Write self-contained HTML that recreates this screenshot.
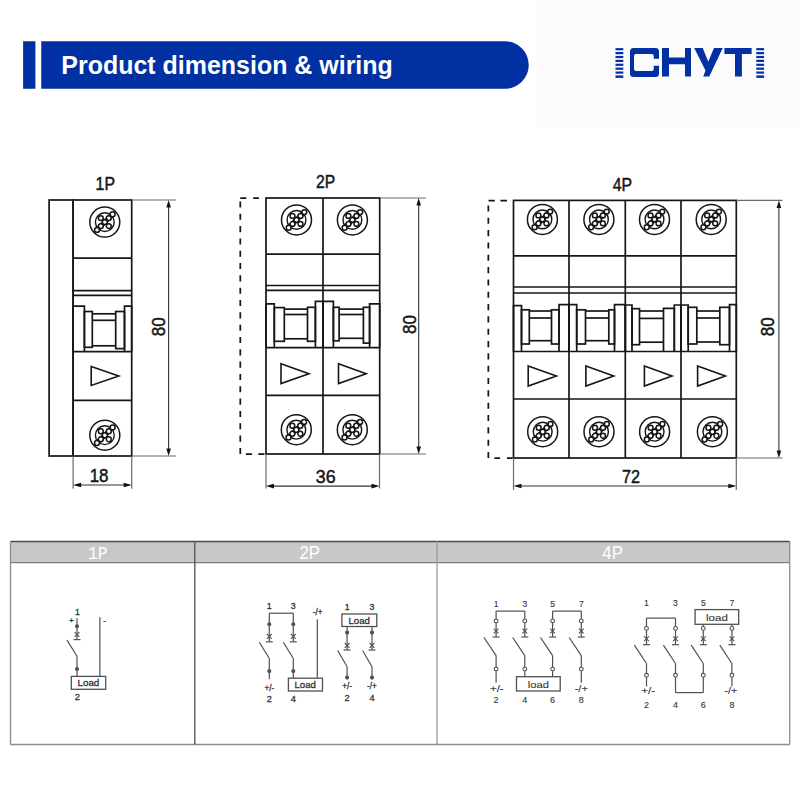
<!DOCTYPE html><html><head><meta charset="utf-8"><style>html,body{margin:0;padding:0;background:#fff;}svg{display:block;}</style></head><body>
<svg width="800" height="796" viewBox="0 0 800 796">
<rect width="800" height="796" fill="#fff"/>
<rect x="537" y="0" width="263" height="128" fill="#fbfbfb"/>
<rect x="23.1" y="41.25" width="12.3" height="47.5" fill="#0030a2"/>
<path d="M41.25 41.25 H505 A23.75 23.75 0 0 1 505 88.75 H41.25 Z" fill="#0030a2"/>
<text x="61.3" y="73.5" font-family="Liberation Sans" font-size="25.2" font-weight="bold" fill="#fff" text-anchor="start" textLength="331.5" lengthAdjust="spacingAndGlyphs" >Product dimension &amp; wiring</text>
<rect x="615.5" y="48.10" width="7.8" height="2.2" fill="#0030a2"/>
<rect x="615.5" y="52.00" width="7.8" height="2.2" fill="#0030a2"/>
<rect x="615.5" y="55.90" width="7.8" height="2.2" fill="#0030a2"/>
<rect x="615.5" y="59.80" width="7.8" height="2.2" fill="#0030a2"/>
<rect x="615.5" y="63.70" width="7.8" height="2.2" fill="#0030a2"/>
<rect x="615.5" y="67.60" width="7.8" height="2.2" fill="#0030a2"/>
<rect x="615.5" y="71.50" width="7.8" height="2.2" fill="#0030a2"/>
<rect x="615.5" y="75.40" width="7.8" height="2.5" fill="#0030a2"/>
<rect x="756.3" y="48.10" width="7.8" height="2.2" fill="#0030a2"/>
<rect x="756.3" y="52.00" width="7.8" height="2.2" fill="#0030a2"/>
<rect x="756.3" y="55.90" width="7.8" height="2.2" fill="#0030a2"/>
<rect x="756.3" y="59.80" width="7.8" height="2.2" fill="#0030a2"/>
<rect x="756.3" y="63.70" width="7.8" height="2.2" fill="#0030a2"/>
<rect x="756.3" y="67.60" width="7.8" height="2.2" fill="#0030a2"/>
<rect x="756.3" y="71.50" width="7.8" height="2.2" fill="#0030a2"/>
<rect x="756.3" y="75.40" width="7.8" height="2.5" fill="#0030a2"/>
<path fill-rule="evenodd" d="M633.5 48 H655.5 Q659 48 659 51.5 V58.75 H653.75 V56 Q653.75 54 651.75 54 H636 Q634 54 634 56 V69 Q634 71 636 71 H651.75 Q653.75 71 653.75 69 V65.75 H659 V73.5 Q659 77 655.5 77 H633.5 Q630 77 630 73.5 V51.5 Q630 48 633.5 48 Z" fill="#0030a2"/>
<path d="M662 48 H669 V57.5 H685 V48 H691 V76.5 H685 V64.25 H669 V76.5 H662 Z" fill="#0030a2"/>
<path d="M694.25 48 H702.75 L708.25 61.75 L714 48 H722.75 L709.25 76.5 H703.25 L705.5 70.5 Z" fill="#0030a2"/>
<path d="M724.4 48 H751.6 V54 H741.9 V76.5 H735 V54 H724.4 Z" fill="#0030a2"/>
<text x="95.6" y="189.6" font-family="Liberation Sans" font-size="19" font-weight="normal" fill="#161616" text-anchor="start" textLength="19.4" lengthAdjust="spacingAndGlyphs"  stroke="#161616" stroke-width="0.5">1P</text>
<rect x="49.1" y="200" width="24" height="256" fill="none" stroke="#161616" stroke-width="1.7"/>
<rect x="73.1" y="200" width="58.6" height="256" fill="none" stroke="#161616" stroke-width="1.7"/>
<line x1="73.1" y1="258.1" x2="131.7" y2="258.1" stroke="#161616" stroke-width="1.7" />
<line x1="73.1" y1="290.7" x2="131.7" y2="290.7" stroke="#161616" stroke-width="1.7" />
<line x1="73.1" y1="295.3" x2="131.7" y2="295.3" stroke="#161616" stroke-width="1.7" />
<line x1="73.1" y1="351.7" x2="131.7" y2="351.7" stroke="#161616" stroke-width="1.7" />
<line x1="73.1" y1="400.3" x2="131.7" y2="400.3" stroke="#161616" stroke-width="1.7" />
<polyline points="73.1,351.7 73.1,306.2 84.4,306.2 84.4,351.7" fill="none" stroke="#161616" stroke-width="1.7"/>
<rect x="84.4" y="311.5" width="7.90" height="35.80" fill="none" stroke="#161616" stroke-width="1.7"/>
<rect x="115.7" y="311.5" width="8.80" height="37.10" fill="none" stroke="#161616" stroke-width="1.7"/>
<polyline points="124.5,351.7 124.5,306.2 131.7,306.2 131.7,351.7" fill="none" stroke="#161616" stroke-width="1.7"/>
<line x1="92.3" y1="313.8" x2="115.7" y2="313.8" stroke="#161616" stroke-width="1.7" />
<line x1="92.3" y1="320.3" x2="115.7" y2="320.3" stroke="#161616" stroke-width="1.7" />
<line x1="92.3" y1="345.8" x2="115.7" y2="345.8" stroke="#161616" stroke-width="1.7" />
<polygon points="91.2,366.4 118.8,375.95 91.2,385.5" fill="none" stroke="#161616" stroke-width="1.6" stroke-linejoin="miter"/>
<g transform="translate(104.8,222.1)"><circle cx="0" cy="0" r="15" fill="none" stroke="#161616" stroke-width="1.5"/><circle cx="0" cy="0" r="9.4" fill="none" stroke="#161616" stroke-width="1.4"/><line x1="-7.8" y1="7.8" x2="7.8" y2="-7.8" stroke="#161616" stroke-width="5"/><line x1="-4" y1="-4" x2="4" y2="4" stroke="#161616" stroke-width="3"/><circle cx="0" cy="0" r="2.45" fill="#fff" stroke="#161616" stroke-width="1.5"/><circle cx="-4" cy="-4" r="2.45" fill="#fff" stroke="#161616" stroke-width="1.5"/><circle cx="4" cy="-4" r="2.45" fill="#fff" stroke="#161616" stroke-width="1.5"/><circle cx="-4" cy="4" r="2.45" fill="#fff" stroke="#161616" stroke-width="1.5"/><circle cx="4" cy="4" r="2.45" fill="#fff" stroke="#161616" stroke-width="1.5"/><circle cx="7.8" cy="-7.8" r="2.45" fill="#fff" stroke="#161616" stroke-width="1.5"/><circle cx="-7.8" cy="7.8" r="2.45" fill="#fff" stroke="#161616" stroke-width="1.5"/></g>
<g transform="translate(104.8,435.2)"><circle cx="0" cy="0" r="15" fill="none" stroke="#161616" stroke-width="1.5"/><circle cx="0" cy="0" r="9.4" fill="none" stroke="#161616" stroke-width="1.4"/><line x1="-7.8" y1="7.8" x2="7.8" y2="-7.8" stroke="#161616" stroke-width="5"/><line x1="-4" y1="-4" x2="4" y2="4" stroke="#161616" stroke-width="3"/><circle cx="0" cy="0" r="2.45" fill="#fff" stroke="#161616" stroke-width="1.5"/><circle cx="-4" cy="-4" r="2.45" fill="#fff" stroke="#161616" stroke-width="1.5"/><circle cx="4" cy="-4" r="2.45" fill="#fff" stroke="#161616" stroke-width="1.5"/><circle cx="-4" cy="4" r="2.45" fill="#fff" stroke="#161616" stroke-width="1.5"/><circle cx="4" cy="4" r="2.45" fill="#fff" stroke="#161616" stroke-width="1.5"/><circle cx="7.8" cy="-7.8" r="2.45" fill="#fff" stroke="#161616" stroke-width="1.5"/><circle cx="-7.8" cy="7.8" r="2.45" fill="#fff" stroke="#161616" stroke-width="1.5"/></g>
<line x1="131.7" y1="200" x2="176" y2="200" stroke="#6a6a6a" stroke-width="1.2" />
<line x1="131.7" y1="456" x2="176" y2="456" stroke="#6a6a6a" stroke-width="1.2" />
<line x1="168.6" y1="203" x2="168.6" y2="453" stroke="#333" stroke-width="1.1" />
<polygon points="168.6,200 166.29999999999998,207.5 170.9,207.5" fill="#111"/>
<polygon points="168.6,456 166.29999999999998,448.5 170.9,448.5" fill="#111"/>
<text x="0" y="0" transform="translate(158.8,326.7) rotate(-90)" font-family="Liberation Sans" font-size="19" fill="#161616" stroke="#161616" stroke-width="0.5" text-anchor="middle" dominant-baseline="central" textLength="19" lengthAdjust="spacingAndGlyphs">80</text>
<line x1="73.1" y1="456" x2="73.1" y2="488.7" stroke="#6a6a6a" stroke-width="1.2" />
<line x1="131.7" y1="456" x2="131.7" y2="488.7" stroke="#6a6a6a" stroke-width="1.2" />
<line x1="76.1" y1="485" x2="128.7" y2="485" stroke="#333" stroke-width="1.1" />
<polygon points="73.1,485 81.1,482.7 81.1,487.3" fill="#111"/>
<polygon points="131.7,485 123.69999999999999,482.7 123.69999999999999,487.3" fill="#111"/>
<text x="89.7" y="482.2" font-family="Liberation Sans" font-size="18.5" font-weight="normal" fill="#161616" text-anchor="start" textLength="18.8" lengthAdjust="spacingAndGlyphs"  stroke="#161616" stroke-width="0.5">18</text>
<text x="316" y="188.4" font-family="Liberation Sans" font-size="19" font-weight="normal" fill="#161616" text-anchor="start" textLength="19.2" lengthAdjust="spacingAndGlyphs"  stroke="#161616" stroke-width="0.5">2P</text>
<path d="M240.3 201.40 v6.1 M240.3 213.72 v6.1 M240.3 226.05 v6.1 M240.3 238.38 v6.1 M240.3 250.70 v6.1 M240.3 263.02 v6.1 M240.3 275.35 v6.1 M240.3 287.68 v6.1 M240.3 300.00 v6.1 M240.3 312.32 v6.1 M240.3 324.65 v6.1 M240.3 336.98 v6.1 M240.3 349.30 v6.1 M240.3 361.62 v6.1 M240.3 373.95 v6.1 M240.3 386.27 v6.1 M240.3 398.60 v6.1 M240.3 410.92 v6.1 M240.3 423.25 v6.1 M240.3 435.57 v6.1 M240.3 447.90 v6.1 M240.3 198 H246.3 M253.2 198 H258.9 M245.8 454 H252.1 M258.3 454 H264.5 " fill="none" stroke="#161616" stroke-width="1.75"/>
<rect x="266" y="198" width="113.7" height="256" fill="none" stroke="#161616" stroke-width="1.7"/>
<line x1="323" y1="198" x2="323" y2="454" stroke="#161616" stroke-width="1.7" />
<line x1="266" y1="254.1" x2="379.7" y2="254.1" stroke="#161616" stroke-width="1.7" />
<line x1="266" y1="285.5" x2="379.7" y2="285.5" stroke="#161616" stroke-width="1.7" />
<line x1="266" y1="290.4" x2="379.7" y2="290.4" stroke="#161616" stroke-width="1.7" />
<line x1="266" y1="347.6" x2="379.7" y2="347.6" stroke="#161616" stroke-width="1.7" />
<line x1="266" y1="395.4" x2="379.7" y2="395.4" stroke="#161616" stroke-width="1.7" />
<polyline points="266,347.6 266,303.8 274.3,303.8 274.3,347.6" fill="none" stroke="#161616" stroke-width="1.7"/>
<rect x="274.3" y="307.6" width="10.00" height="33.70" fill="none" stroke="#161616" stroke-width="1.7"/>
<rect x="307.5" y="307.3" width="7.90" height="34.00" fill="none" stroke="#161616" stroke-width="1.7"/>
<polyline points="315.4,347.6 315.4,301.4 323,301.4 323,347.6" fill="none" stroke="#161616" stroke-width="1.7"/>
<line x1="284.3" y1="309.1" x2="307.5" y2="309.1" stroke="#161616" stroke-width="1.7" />
<line x1="284.3" y1="314.5" x2="307.5" y2="314.5" stroke="#161616" stroke-width="1.7" />
<line x1="284.3" y1="338.8" x2="307.5" y2="338.8" stroke="#161616" stroke-width="1.7" />
<polyline points="323,347.6 323,301.4 333.4,301.4 333.4,347.6" fill="none" stroke="#161616" stroke-width="1.7"/>
<rect x="333.4" y="307.3" width="5.70" height="33.50" fill="none" stroke="#161616" stroke-width="1.7"/>
<rect x="363.4" y="307.3" width="6.20" height="35.80" fill="none" stroke="#161616" stroke-width="1.7"/>
<polyline points="369.6,347.6 369.6,303.8 379.7,303.8 379.7,347.6" fill="none" stroke="#161616" stroke-width="1.7"/>
<line x1="339.1" y1="309.1" x2="363.4" y2="309.1" stroke="#161616" stroke-width="1.7" />
<line x1="339.1" y1="314.5" x2="363.4" y2="314.5" stroke="#161616" stroke-width="1.7" />
<line x1="339.1" y1="338.3" x2="363.4" y2="338.3" stroke="#161616" stroke-width="1.7" />
<polygon points="281,363.7 309,373.65 281,383.6" fill="none" stroke="#161616" stroke-width="1.6" stroke-linejoin="miter"/>
<polygon points="338.5,363.7 366.2,373.65 338.5,383.6" fill="none" stroke="#161616" stroke-width="1.6" stroke-linejoin="miter"/>
<g transform="translate(296.5,219.9)"><circle cx="0" cy="0" r="15" fill="none" stroke="#161616" stroke-width="1.5"/><circle cx="0" cy="0" r="9.4" fill="none" stroke="#161616" stroke-width="1.4"/><line x1="-7.8" y1="7.8" x2="7.8" y2="-7.8" stroke="#161616" stroke-width="5"/><line x1="-4" y1="-4" x2="4" y2="4" stroke="#161616" stroke-width="3"/><circle cx="0" cy="0" r="2.45" fill="#fff" stroke="#161616" stroke-width="1.5"/><circle cx="-4" cy="-4" r="2.45" fill="#fff" stroke="#161616" stroke-width="1.5"/><circle cx="4" cy="-4" r="2.45" fill="#fff" stroke="#161616" stroke-width="1.5"/><circle cx="-4" cy="4" r="2.45" fill="#fff" stroke="#161616" stroke-width="1.5"/><circle cx="4" cy="4" r="2.45" fill="#fff" stroke="#161616" stroke-width="1.5"/><circle cx="7.8" cy="-7.8" r="2.45" fill="#fff" stroke="#161616" stroke-width="1.5"/><circle cx="-7.8" cy="7.8" r="2.45" fill="#fff" stroke="#161616" stroke-width="1.5"/></g>
<g transform="translate(352.4,219.9)"><circle cx="0" cy="0" r="15" fill="none" stroke="#161616" stroke-width="1.5"/><circle cx="0" cy="0" r="9.4" fill="none" stroke="#161616" stroke-width="1.4"/><line x1="-7.8" y1="7.8" x2="7.8" y2="-7.8" stroke="#161616" stroke-width="5"/><line x1="-4" y1="-4" x2="4" y2="4" stroke="#161616" stroke-width="3"/><circle cx="0" cy="0" r="2.45" fill="#fff" stroke="#161616" stroke-width="1.5"/><circle cx="-4" cy="-4" r="2.45" fill="#fff" stroke="#161616" stroke-width="1.5"/><circle cx="4" cy="-4" r="2.45" fill="#fff" stroke="#161616" stroke-width="1.5"/><circle cx="-4" cy="4" r="2.45" fill="#fff" stroke="#161616" stroke-width="1.5"/><circle cx="4" cy="4" r="2.45" fill="#fff" stroke="#161616" stroke-width="1.5"/><circle cx="7.8" cy="-7.8" r="2.45" fill="#fff" stroke="#161616" stroke-width="1.5"/><circle cx="-7.8" cy="7.8" r="2.45" fill="#fff" stroke="#161616" stroke-width="1.5"/></g>
<g transform="translate(296.3,429.7)"><circle cx="0" cy="0" r="15" fill="none" stroke="#161616" stroke-width="1.5"/><circle cx="0" cy="0" r="9.4" fill="none" stroke="#161616" stroke-width="1.4"/><line x1="-7.8" y1="7.8" x2="7.8" y2="-7.8" stroke="#161616" stroke-width="5"/><line x1="-4" y1="-4" x2="4" y2="4" stroke="#161616" stroke-width="3"/><circle cx="0" cy="0" r="2.45" fill="#fff" stroke="#161616" stroke-width="1.5"/><circle cx="-4" cy="-4" r="2.45" fill="#fff" stroke="#161616" stroke-width="1.5"/><circle cx="4" cy="-4" r="2.45" fill="#fff" stroke="#161616" stroke-width="1.5"/><circle cx="-4" cy="4" r="2.45" fill="#fff" stroke="#161616" stroke-width="1.5"/><circle cx="4" cy="4" r="2.45" fill="#fff" stroke="#161616" stroke-width="1.5"/><circle cx="7.8" cy="-7.8" r="2.45" fill="#fff" stroke="#161616" stroke-width="1.5"/><circle cx="-7.8" cy="7.8" r="2.45" fill="#fff" stroke="#161616" stroke-width="1.5"/></g>
<g transform="translate(352.3,429.7)"><circle cx="0" cy="0" r="15" fill="none" stroke="#161616" stroke-width="1.5"/><circle cx="0" cy="0" r="9.4" fill="none" stroke="#161616" stroke-width="1.4"/><line x1="-7.8" y1="7.8" x2="7.8" y2="-7.8" stroke="#161616" stroke-width="5"/><line x1="-4" y1="-4" x2="4" y2="4" stroke="#161616" stroke-width="3"/><circle cx="0" cy="0" r="2.45" fill="#fff" stroke="#161616" stroke-width="1.5"/><circle cx="-4" cy="-4" r="2.45" fill="#fff" stroke="#161616" stroke-width="1.5"/><circle cx="4" cy="-4" r="2.45" fill="#fff" stroke="#161616" stroke-width="1.5"/><circle cx="-4" cy="4" r="2.45" fill="#fff" stroke="#161616" stroke-width="1.5"/><circle cx="4" cy="4" r="2.45" fill="#fff" stroke="#161616" stroke-width="1.5"/><circle cx="7.8" cy="-7.8" r="2.45" fill="#fff" stroke="#161616" stroke-width="1.5"/><circle cx="-7.8" cy="7.8" r="2.45" fill="#fff" stroke="#161616" stroke-width="1.5"/></g>
<line x1="379.7" y1="198" x2="425.8" y2="198" stroke="#6a6a6a" stroke-width="1.2" />
<line x1="379.7" y1="454" x2="425.8" y2="454" stroke="#6a6a6a" stroke-width="1.2" />
<line x1="418.7" y1="201" x2="418.7" y2="451" stroke="#333" stroke-width="1.1" />
<polygon points="418.7,198 416.4,205.5 421.0,205.5" fill="#111"/>
<polygon points="418.7,454 416.4,446.5 421.0,446.5" fill="#111"/>
<text x="0" y="0" transform="translate(409.6,324.4) rotate(-90)" font-family="Liberation Sans" font-size="19" fill="#161616" stroke="#161616" stroke-width="0.5" text-anchor="middle" dominant-baseline="central" textLength="19" lengthAdjust="spacingAndGlyphs">80</text>
<line x1="266" y1="454" x2="266" y2="488.4" stroke="#6a6a6a" stroke-width="1.2" />
<line x1="379.5" y1="454" x2="379.5" y2="488.4" stroke="#6a6a6a" stroke-width="1.2" />
<line x1="269" y1="486.1" x2="376.5" y2="486.1" stroke="#333" stroke-width="1.1" />
<polygon points="266,486.1 274,483.8 274,488.40000000000003" fill="#111"/>
<polygon points="379.5,486.1 371.5,483.8 371.5,488.40000000000003" fill="#111"/>
<text x="315.8" y="482.8" font-family="Liberation Sans" font-size="18.5" font-weight="normal" fill="#161616" text-anchor="start" textLength="19.8" lengthAdjust="spacingAndGlyphs"  stroke="#161616" stroke-width="0.5">36</text>
<text x="612.8" y="190.8" font-family="Liberation Sans" font-size="19" font-weight="normal" fill="#161616" text-anchor="start" textLength="19.4" lengthAdjust="spacingAndGlyphs"  stroke="#161616" stroke-width="0.5">4P</text>
<path d="M488.35 205.40 v6.1 M488.35 217.73 v6.1 M488.35 230.06 v6.1 M488.35 242.39 v6.1 M488.35 254.72 v6.1 M488.35 267.05 v6.1 M488.35 279.38 v6.1 M488.35 291.71 v6.1 M488.35 304.04 v6.1 M488.35 316.37 v6.1 M488.35 328.70 v6.1 M488.35 341.03 v6.1 M488.35 353.36 v6.1 M488.35 365.69 v6.1 M488.35 378.02 v6.1 M488.35 390.35 v6.1 M488.35 402.68 v6.1 M488.35 415.01 v6.1 M488.35 427.34 v6.1 M488.35 439.67 v6.1 M488.35 452.00 v6.1 M488.5 200.55 H494.8 M500.4 200.55 H507 M494.4 458 H500.1 M507 458 H512.7 " fill="none" stroke="#161616" stroke-width="1.75"/>
<rect x="513.5" y="200.4" width="222.79999999999995" height="257.6" fill="none" stroke="#161616" stroke-width="1.7"/>
<line x1="569" y1="200.4" x2="569" y2="458" stroke="#161616" stroke-width="1.7" />
<line x1="625.3" y1="200.4" x2="625.3" y2="458" stroke="#161616" stroke-width="1.7" />
<line x1="681" y1="200.4" x2="681" y2="458" stroke="#161616" stroke-width="1.7" />
<line x1="513.5" y1="255.9" x2="736.3" y2="255.9" stroke="#161616" stroke-width="1.7" />
<line x1="513.5" y1="287" x2="736.3" y2="287" stroke="#161616" stroke-width="1.7" />
<line x1="513.5" y1="293" x2="736.3" y2="293" stroke="#161616" stroke-width="1.7" />
<line x1="513.5" y1="351.5" x2="736.3" y2="351.5" stroke="#161616" stroke-width="1.7" />
<line x1="513.5" y1="399" x2="736.3" y2="399" stroke="#161616" stroke-width="1.7" />
<polyline points="513.5,351.5 513.5,305.7 521.5,305.7 521.5,351.5" fill="none" stroke="#161616" stroke-width="1.7"/>
<rect x="521.5" y="309.8" width="7.80" height="34.20" fill="none" stroke="#161616" stroke-width="1.7"/>
<rect x="551.5" y="309.8" width="7.50" height="34.20" fill="none" stroke="#161616" stroke-width="1.7"/>
<polyline points="559,351.5 559,304.7 569,304.7 569,351.5" fill="none" stroke="#161616" stroke-width="1.7"/>
<line x1="529.3" y1="311" x2="551.5" y2="311" stroke="#161616" stroke-width="1.7" />
<line x1="529.3" y1="318" x2="551.5" y2="318" stroke="#161616" stroke-width="1.7" />
<line x1="529.3" y1="340.7" x2="551.5" y2="340.7" stroke="#161616" stroke-width="1.7" />
<polyline points="569,351.5 569,304.7 576.7,304.7 576.7,351.5" fill="none" stroke="#161616" stroke-width="1.7"/>
<rect x="576.7" y="309.8" width="8.80" height="34.20" fill="none" stroke="#161616" stroke-width="1.7"/>
<rect x="608.8" y="309.8" width="5.70" height="34.20" fill="none" stroke="#161616" stroke-width="1.7"/>
<polyline points="614.5,351.5 614.5,304.7 625.3,304.7 625.3,351.5" fill="none" stroke="#161616" stroke-width="1.7"/>
<line x1="585.5" y1="311" x2="608.8" y2="311" stroke="#161616" stroke-width="1.7" />
<line x1="585.5" y1="318" x2="608.8" y2="318" stroke="#161616" stroke-width="1.7" />
<line x1="585.5" y1="340.7" x2="608.8" y2="340.7" stroke="#161616" stroke-width="1.7" />
<polyline points="625.3,351.5 625.3,305 632,305 632,351.5" fill="none" stroke="#161616" stroke-width="1.7"/>
<rect x="632" y="308.7" width="7.50" height="36.00" fill="none" stroke="#161616" stroke-width="1.7"/>
<polyline points="663.5,351.5 663.5,308.3 674.3,308.3 674.3,351.5" fill="none" stroke="#161616" stroke-width="1.7"/>
<polyline points="674.3,351.5 674.3,305 681,305 681,351.5" fill="none" stroke="#161616" stroke-width="1.7"/>
<line x1="639.5" y1="311" x2="663.5" y2="311" stroke="#161616" stroke-width="1.7" />
<line x1="639.5" y1="318.4" x2="663.5" y2="318.4" stroke="#161616" stroke-width="1.7" />
<line x1="639.5" y1="342.2" x2="663.5" y2="342.2" stroke="#161616" stroke-width="1.7" />
<polyline points="681,351.5 681,305 688.2,305 688.2,351.5" fill="none" stroke="#161616" stroke-width="1.7"/>
<rect x="688.2" y="307.3" width="8.60" height="36.70" fill="none" stroke="#161616" stroke-width="1.7"/>
<rect x="719.8" y="307.3" width="9.70" height="37.40" fill="none" stroke="#161616" stroke-width="1.7"/>
<polyline points="729.5,351.5 729.5,304.7 736.3,304.7 736.3,351.5" fill="none" stroke="#161616" stroke-width="1.7"/>
<line x1="696.8" y1="311" x2="719.8" y2="311" stroke="#161616" stroke-width="1.7" />
<line x1="696.8" y1="318" x2="719.8" y2="318" stroke="#161616" stroke-width="1.7" />
<line x1="696.8" y1="342" x2="719.8" y2="342" stroke="#161616" stroke-width="1.7" />
<polygon points="528.2,366 556.4,376.0 528.2,386" fill="none" stroke="#161616" stroke-width="1.6" stroke-linejoin="miter"/>
<polygon points="585.9,366 613.7,376.0 585.9,386" fill="none" stroke="#161616" stroke-width="1.6" stroke-linejoin="miter"/>
<polygon points="644.4,366 672,376.0 644.4,386" fill="none" stroke="#161616" stroke-width="1.6" stroke-linejoin="miter"/>
<polygon points="697.6,366 725.4,376.0 697.6,386" fill="none" stroke="#161616" stroke-width="1.6" stroke-linejoin="miter"/>
<g transform="translate(542.4,219.4)"><circle cx="0" cy="0" r="15" fill="none" stroke="#161616" stroke-width="1.5"/><circle cx="0" cy="0" r="9.4" fill="none" stroke="#161616" stroke-width="1.4"/><line x1="-7.8" y1="7.8" x2="7.8" y2="-7.8" stroke="#161616" stroke-width="5"/><line x1="-4" y1="-4" x2="4" y2="4" stroke="#161616" stroke-width="3"/><circle cx="0" cy="0" r="2.45" fill="#fff" stroke="#161616" stroke-width="1.5"/><circle cx="-4" cy="-4" r="2.45" fill="#fff" stroke="#161616" stroke-width="1.5"/><circle cx="4" cy="-4" r="2.45" fill="#fff" stroke="#161616" stroke-width="1.5"/><circle cx="-4" cy="4" r="2.45" fill="#fff" stroke="#161616" stroke-width="1.5"/><circle cx="4" cy="4" r="2.45" fill="#fff" stroke="#161616" stroke-width="1.5"/><circle cx="7.8" cy="-7.8" r="2.45" fill="#fff" stroke="#161616" stroke-width="1.5"/><circle cx="-7.8" cy="7.8" r="2.45" fill="#fff" stroke="#161616" stroke-width="1.5"/></g>
<g transform="translate(598.9,219.4)"><circle cx="0" cy="0" r="15" fill="none" stroke="#161616" stroke-width="1.5"/><circle cx="0" cy="0" r="9.4" fill="none" stroke="#161616" stroke-width="1.4"/><line x1="-7.8" y1="7.8" x2="7.8" y2="-7.8" stroke="#161616" stroke-width="5"/><line x1="-4" y1="-4" x2="4" y2="4" stroke="#161616" stroke-width="3"/><circle cx="0" cy="0" r="2.45" fill="#fff" stroke="#161616" stroke-width="1.5"/><circle cx="-4" cy="-4" r="2.45" fill="#fff" stroke="#161616" stroke-width="1.5"/><circle cx="4" cy="-4" r="2.45" fill="#fff" stroke="#161616" stroke-width="1.5"/><circle cx="-4" cy="4" r="2.45" fill="#fff" stroke="#161616" stroke-width="1.5"/><circle cx="4" cy="4" r="2.45" fill="#fff" stroke="#161616" stroke-width="1.5"/><circle cx="7.8" cy="-7.8" r="2.45" fill="#fff" stroke="#161616" stroke-width="1.5"/><circle cx="-7.8" cy="7.8" r="2.45" fill="#fff" stroke="#161616" stroke-width="1.5"/></g>
<g transform="translate(654.5,219.4)"><circle cx="0" cy="0" r="15" fill="none" stroke="#161616" stroke-width="1.5"/><circle cx="0" cy="0" r="9.4" fill="none" stroke="#161616" stroke-width="1.4"/><line x1="-7.8" y1="7.8" x2="7.8" y2="-7.8" stroke="#161616" stroke-width="5"/><line x1="-4" y1="-4" x2="4" y2="4" stroke="#161616" stroke-width="3"/><circle cx="0" cy="0" r="2.45" fill="#fff" stroke="#161616" stroke-width="1.5"/><circle cx="-4" cy="-4" r="2.45" fill="#fff" stroke="#161616" stroke-width="1.5"/><circle cx="4" cy="-4" r="2.45" fill="#fff" stroke="#161616" stroke-width="1.5"/><circle cx="-4" cy="4" r="2.45" fill="#fff" stroke="#161616" stroke-width="1.5"/><circle cx="4" cy="4" r="2.45" fill="#fff" stroke="#161616" stroke-width="1.5"/><circle cx="7.8" cy="-7.8" r="2.45" fill="#fff" stroke="#161616" stroke-width="1.5"/><circle cx="-7.8" cy="7.8" r="2.45" fill="#fff" stroke="#161616" stroke-width="1.5"/></g>
<g transform="translate(711.2,219.4)"><circle cx="0" cy="0" r="15" fill="none" stroke="#161616" stroke-width="1.5"/><circle cx="0" cy="0" r="9.4" fill="none" stroke="#161616" stroke-width="1.4"/><line x1="-7.8" y1="7.8" x2="7.8" y2="-7.8" stroke="#161616" stroke-width="5"/><line x1="-4" y1="-4" x2="4" y2="4" stroke="#161616" stroke-width="3"/><circle cx="0" cy="0" r="2.45" fill="#fff" stroke="#161616" stroke-width="1.5"/><circle cx="-4" cy="-4" r="2.45" fill="#fff" stroke="#161616" stroke-width="1.5"/><circle cx="4" cy="-4" r="2.45" fill="#fff" stroke="#161616" stroke-width="1.5"/><circle cx="-4" cy="4" r="2.45" fill="#fff" stroke="#161616" stroke-width="1.5"/><circle cx="4" cy="4" r="2.45" fill="#fff" stroke="#161616" stroke-width="1.5"/><circle cx="7.8" cy="-7.8" r="2.45" fill="#fff" stroke="#161616" stroke-width="1.5"/><circle cx="-7.8" cy="7.8" r="2.45" fill="#fff" stroke="#161616" stroke-width="1.5"/></g>
<g transform="translate(542.7,431.7)"><circle cx="0" cy="0" r="15" fill="none" stroke="#161616" stroke-width="1.5"/><circle cx="0" cy="0" r="9.4" fill="none" stroke="#161616" stroke-width="1.4"/><line x1="-7.8" y1="7.8" x2="7.8" y2="-7.8" stroke="#161616" stroke-width="5"/><line x1="-4" y1="-4" x2="4" y2="4" stroke="#161616" stroke-width="3"/><circle cx="0" cy="0" r="2.45" fill="#fff" stroke="#161616" stroke-width="1.5"/><circle cx="-4" cy="-4" r="2.45" fill="#fff" stroke="#161616" stroke-width="1.5"/><circle cx="4" cy="-4" r="2.45" fill="#fff" stroke="#161616" stroke-width="1.5"/><circle cx="-4" cy="4" r="2.45" fill="#fff" stroke="#161616" stroke-width="1.5"/><circle cx="4" cy="4" r="2.45" fill="#fff" stroke="#161616" stroke-width="1.5"/><circle cx="7.8" cy="-7.8" r="2.45" fill="#fff" stroke="#161616" stroke-width="1.5"/><circle cx="-7.8" cy="7.8" r="2.45" fill="#fff" stroke="#161616" stroke-width="1.5"/></g>
<g transform="translate(599,431.7)"><circle cx="0" cy="0" r="15" fill="none" stroke="#161616" stroke-width="1.5"/><circle cx="0" cy="0" r="9.4" fill="none" stroke="#161616" stroke-width="1.4"/><line x1="-7.8" y1="7.8" x2="7.8" y2="-7.8" stroke="#161616" stroke-width="5"/><line x1="-4" y1="-4" x2="4" y2="4" stroke="#161616" stroke-width="3"/><circle cx="0" cy="0" r="2.45" fill="#fff" stroke="#161616" stroke-width="1.5"/><circle cx="-4" cy="-4" r="2.45" fill="#fff" stroke="#161616" stroke-width="1.5"/><circle cx="4" cy="-4" r="2.45" fill="#fff" stroke="#161616" stroke-width="1.5"/><circle cx="-4" cy="4" r="2.45" fill="#fff" stroke="#161616" stroke-width="1.5"/><circle cx="4" cy="4" r="2.45" fill="#fff" stroke="#161616" stroke-width="1.5"/><circle cx="7.8" cy="-7.8" r="2.45" fill="#fff" stroke="#161616" stroke-width="1.5"/><circle cx="-7.8" cy="7.8" r="2.45" fill="#fff" stroke="#161616" stroke-width="1.5"/></g>
<g transform="translate(654.6,431.7)"><circle cx="0" cy="0" r="15" fill="none" stroke="#161616" stroke-width="1.5"/><circle cx="0" cy="0" r="9.4" fill="none" stroke="#161616" stroke-width="1.4"/><line x1="-7.8" y1="7.8" x2="7.8" y2="-7.8" stroke="#161616" stroke-width="5"/><line x1="-4" y1="-4" x2="4" y2="4" stroke="#161616" stroke-width="3"/><circle cx="0" cy="0" r="2.45" fill="#fff" stroke="#161616" stroke-width="1.5"/><circle cx="-4" cy="-4" r="2.45" fill="#fff" stroke="#161616" stroke-width="1.5"/><circle cx="4" cy="-4" r="2.45" fill="#fff" stroke="#161616" stroke-width="1.5"/><circle cx="-4" cy="4" r="2.45" fill="#fff" stroke="#161616" stroke-width="1.5"/><circle cx="4" cy="4" r="2.45" fill="#fff" stroke="#161616" stroke-width="1.5"/><circle cx="7.8" cy="-7.8" r="2.45" fill="#fff" stroke="#161616" stroke-width="1.5"/><circle cx="-7.8" cy="7.8" r="2.45" fill="#fff" stroke="#161616" stroke-width="1.5"/></g>
<g transform="translate(712.4,431.7)"><circle cx="0" cy="0" r="15" fill="none" stroke="#161616" stroke-width="1.5"/><circle cx="0" cy="0" r="9.4" fill="none" stroke="#161616" stroke-width="1.4"/><line x1="-7.8" y1="7.8" x2="7.8" y2="-7.8" stroke="#161616" stroke-width="5"/><line x1="-4" y1="-4" x2="4" y2="4" stroke="#161616" stroke-width="3"/><circle cx="0" cy="0" r="2.45" fill="#fff" stroke="#161616" stroke-width="1.5"/><circle cx="-4" cy="-4" r="2.45" fill="#fff" stroke="#161616" stroke-width="1.5"/><circle cx="4" cy="-4" r="2.45" fill="#fff" stroke="#161616" stroke-width="1.5"/><circle cx="-4" cy="4" r="2.45" fill="#fff" stroke="#161616" stroke-width="1.5"/><circle cx="4" cy="4" r="2.45" fill="#fff" stroke="#161616" stroke-width="1.5"/><circle cx="7.8" cy="-7.8" r="2.45" fill="#fff" stroke="#161616" stroke-width="1.5"/><circle cx="-7.8" cy="7.8" r="2.45" fill="#fff" stroke="#161616" stroke-width="1.5"/></g>
<line x1="736.3" y1="200.4" x2="782.5" y2="200.4" stroke="#6a6a6a" stroke-width="1.2" />
<line x1="736.3" y1="458" x2="782.5" y2="458" stroke="#6a6a6a" stroke-width="1.2" />
<line x1="778.9" y1="203.4" x2="778.9" y2="455" stroke="#333" stroke-width="1.1" />
<polygon points="778.9,200.4 776.6,207.9 781.1999999999999,207.9" fill="#111"/>
<polygon points="778.9,458 776.6,450.5 781.1999999999999,450.5" fill="#111"/>
<text x="0" y="0" transform="translate(767,326.7) rotate(-90)" font-family="Liberation Sans" font-size="19" fill="#161616" stroke="#161616" stroke-width="0.5" text-anchor="middle" dominant-baseline="central" textLength="19" lengthAdjust="spacingAndGlyphs">80</text>
<line x1="513.5" y1="458" x2="513.5" y2="490" stroke="#6a6a6a" stroke-width="1.2" />
<line x1="736.3" y1="458" x2="736.3" y2="490" stroke="#6a6a6a" stroke-width="1.2" />
<line x1="516.5" y1="486" x2="733.3" y2="486" stroke="#333" stroke-width="1.1" />
<polygon points="513.5,486 521.5,483.7 521.5,488.3" fill="#111"/>
<polygon points="736.3,486 728.3,483.7 728.3,488.3" fill="#111"/>
<text x="622" y="482.6" font-family="Liberation Sans" font-size="18.5" font-weight="normal" fill="#161616" text-anchor="start" textLength="18" lengthAdjust="spacingAndGlyphs"  stroke="#161616" stroke-width="0.5">72</text>
<rect x="10.5" y="541.5" width="779" height="21" fill="#c8c8c8"/>
<line x1="10.5" y1="541.5" x2="789.7" y2="541.5" stroke="#4a4a4a" stroke-width="1.4" />
<line x1="10.5" y1="562.6" x2="789.7" y2="562.6" stroke="#7e7e7e" stroke-width="1.4" />
<line x1="10.5" y1="541.5" x2="10.5" y2="744.5" stroke="#8c8c8c" stroke-width="1.3" />
<line x1="789.7" y1="541.5" x2="789.7" y2="744.5" stroke="#8c8c8c" stroke-width="1.3" />
<line x1="10.5" y1="744.5" x2="789.7" y2="744.5" stroke="#8c8c8c" stroke-width="1.3" />
<line x1="194.8" y1="541.5" x2="194.8" y2="744.5" stroke="#5a5a5a" stroke-width="1.4" />
<line x1="437" y1="541.5" x2="437" y2="744.5" stroke="#9a9a9a" stroke-width="1.3" />
<text x="97.7" y="559" font-family="Liberation Mono" font-size="17.5" font-weight="normal" fill="#fff" text-anchor="middle" textLength="19.6" lengthAdjust="spacingAndGlyphs" >1P</text>
<text x="309.6" y="559" font-family="Liberation Sans" font-size="17.5" font-weight="normal" fill="#fff" text-anchor="middle" textLength="20.4" lengthAdjust="spacingAndGlyphs" >2P</text>
<text x="612.6" y="559" font-family="Liberation Sans" font-size="17.5" font-weight="normal" fill="#fff" text-anchor="middle" textLength="20.6" lengthAdjust="spacingAndGlyphs" >4P</text>
<text x="77.4" y="615.1" font-family="Liberation Sans" font-size="8.8" fill="#333" stroke="#333" stroke-width="0.3" text-anchor="middle">1</text>
<text x="71.4" y="623.3" font-family="Liberation Sans" font-size="7.5" fill="#333" stroke="#333" stroke-width="0.3" text-anchor="middle">+</text>
<text x="104.7" y="623.0" font-family="Liberation Sans" font-size="8" fill="#333" stroke="#333" stroke-width="0.3" text-anchor="middle">-</text>
<line x1="77" y1="618.2" x2="77" y2="639.6" stroke="#505050" stroke-width="1.2" />
<line x1="73.5" y1="639.6" x2="80.5" y2="639.6" stroke="#505050" stroke-width="1.2" />
<line x1="74.6" y1="632.1" x2="79.4" y2="636.9" stroke="#505050" stroke-width="1.1" />
<line x1="74.6" y1="636.9" x2="79.4" y2="632.1" stroke="#505050" stroke-width="1.1" />
<line x1="67" y1="640.1" x2="77" y2="656.2" stroke="#505050" stroke-width="1.2" />
<line x1="77" y1="656.2" x2="77" y2="676.4" stroke="#505050" stroke-width="1.2" />
<circle cx="77" cy="626.3" r="1.5" fill="#505050" stroke="#505050" stroke-width="1.1"/>
<circle cx="77" cy="669" r="1.5" fill="#505050" stroke="#505050" stroke-width="1.1"/>
<line x1="99.9" y1="617.3" x2="99.9" y2="676.4" stroke="#505050" stroke-width="1.2" />
<rect x="71.3" y="676.4" width="34.40" height="12.90" fill="#fff" stroke="#505050" stroke-width="1.3"/>
<text x="88.4" y="686.3" font-family="Liberation Sans" font-size="9.6" fill="#333" stroke="#333" stroke-width="0.3" text-anchor="middle" textLength="21.8" lengthAdjust="spacingAndGlyphs">Load</text>
<text x="77.3" y="699.9" font-family="Liberation Sans" font-size="9.4" fill="#333" stroke="#333" stroke-width="0.3" text-anchor="middle">2</text>
<text x="269.3" y="608.8" font-family="Liberation Sans" font-size="8.8" fill="#333" stroke="#333" stroke-width="0.3" text-anchor="middle">1</text>
<text x="293.3" y="608.8" font-family="Liberation Sans" font-size="8.8" fill="#333" stroke="#333" stroke-width="0.3" text-anchor="middle">3</text>
<line x1="269.3" y1="613.2" x2="293.3" y2="613.2" stroke="#505050" stroke-width="1.2" />
<line x1="269.3" y1="613.2" x2="269.3" y2="641.8" stroke="#505050" stroke-width="1.2" />
<line x1="265.8" y1="641.8" x2="272.8" y2="641.8" stroke="#505050" stroke-width="1.2" />
<line x1="266.90000000000003" y1="634.0" x2="271.7" y2="638.8" stroke="#505050" stroke-width="1.1" />
<line x1="266.90000000000003" y1="638.8" x2="271.7" y2="634.0" stroke="#505050" stroke-width="1.1" />
<line x1="259.4" y1="642.3" x2="269.3" y2="658.5" stroke="#505050" stroke-width="1.2" />
<line x1="269.3" y1="658.5" x2="269.3" y2="679.3" stroke="#505050" stroke-width="1.2" />
<circle cx="269.3" cy="624.3" r="1.5" fill="#505050" stroke="#505050" stroke-width="1.1"/>
<circle cx="269.3" cy="671" r="1.5" fill="#505050" stroke="#505050" stroke-width="1.1"/>
<line x1="293.3" y1="613.2" x2="293.3" y2="641.8" stroke="#505050" stroke-width="1.2" />
<line x1="289.8" y1="641.8" x2="296.8" y2="641.8" stroke="#505050" stroke-width="1.2" />
<line x1="290.90000000000003" y1="634.0" x2="295.7" y2="638.8" stroke="#505050" stroke-width="1.1" />
<line x1="290.90000000000003" y1="638.8" x2="295.7" y2="634.0" stroke="#505050" stroke-width="1.1" />
<line x1="283.4" y1="642.3" x2="293.3" y2="658.5" stroke="#505050" stroke-width="1.2" />
<line x1="293.3" y1="658.5" x2="293.3" y2="678.2" stroke="#505050" stroke-width="1.2" />
<circle cx="293.3" cy="624.3" r="1.5" fill="#505050" stroke="#505050" stroke-width="1.1"/>
<circle cx="293.3" cy="671" r="1.5" fill="#505050" stroke="#505050" stroke-width="1.1"/>
<text x="269.3" y="690.6" font-family="Liberation Sans" font-size="8.2" fill="#333" stroke="#333" stroke-width="0.3" text-anchor="middle">+/-</text>
<line x1="317.3" y1="619.2" x2="317.3" y2="678.2" stroke="#505050" stroke-width="1.2" />
<text x="317.7" y="615.0" font-family="Liberation Sans" font-size="8.2" fill="#333" stroke="#333" stroke-width="0.3" text-anchor="middle">-/+</text>
<rect x="288.4" y="678.2" width="34.10" height="12.80" fill="#fff" stroke="#505050" stroke-width="1.3"/>
<text x="305.25" y="687.8" font-family="Liberation Sans" font-size="9.6" fill="#333" stroke="#333" stroke-width="0.3" text-anchor="middle" textLength="21.5" lengthAdjust="spacingAndGlyphs">Load</text>
<text x="269.3" y="702" font-family="Liberation Sans" font-size="9.2" fill="#333" stroke="#333" stroke-width="0.3" text-anchor="middle">2</text>
<text x="293.3" y="702" font-family="Liberation Sans" font-size="9.2" fill="#333" stroke="#333" stroke-width="0.3" text-anchor="middle">4</text>
<text x="347.1" y="610.4" font-family="Liberation Sans" font-size="8.8" fill="#333" stroke="#333" stroke-width="0.3" text-anchor="middle">1</text>
<text x="372" y="610.4" font-family="Liberation Sans" font-size="8.8" fill="#333" stroke="#333" stroke-width="0.3" text-anchor="middle">3</text>
<rect x="341.9" y="614" width="34.90" height="12.50" fill="#fff" stroke="#505050" stroke-width="1.3"/>
<text x="359.2" y="624" font-family="Liberation Sans" font-size="9.6" fill="#333" stroke="#333" stroke-width="0.3" text-anchor="middle" textLength="21.4" lengthAdjust="spacingAndGlyphs">Load</text>
<line x1="347.1" y1="626.5" x2="347.1" y2="650" stroke="#505050" stroke-width="1.2" />
<line x1="343.6" y1="650" x2="350.6" y2="650" stroke="#505050" stroke-width="1.2" />
<line x1="344.70000000000005" y1="643.0" x2="349.5" y2="647.8" stroke="#505050" stroke-width="1.1" />
<line x1="344.70000000000005" y1="647.8" x2="349.5" y2="643.0" stroke="#505050" stroke-width="1.1" />
<line x1="337.7" y1="650.5" x2="347.1" y2="666.8" stroke="#505050" stroke-width="1.2" />
<line x1="347.1" y1="666.8" x2="347.1" y2="679" stroke="#505050" stroke-width="1.2" />
<circle cx="347.1" cy="632.6" r="1.5" fill="#505050" stroke="#505050" stroke-width="1.1"/>
<circle cx="347.1" cy="677.6" r="1.5" fill="#505050" stroke="#505050" stroke-width="1.1"/>
<line x1="372" y1="626.5" x2="372" y2="650" stroke="#505050" stroke-width="1.2" />
<line x1="368.5" y1="650" x2="375.5" y2="650" stroke="#505050" stroke-width="1.2" />
<line x1="369.6" y1="643.0" x2="374.4" y2="647.8" stroke="#505050" stroke-width="1.1" />
<line x1="369.6" y1="647.8" x2="374.4" y2="643.0" stroke="#505050" stroke-width="1.1" />
<line x1="362.6" y1="650.5" x2="372" y2="666.8" stroke="#505050" stroke-width="1.2" />
<line x1="372" y1="666.8" x2="372" y2="679" stroke="#505050" stroke-width="1.2" />
<circle cx="372" cy="632.6" r="1.5" fill="#505050" stroke="#505050" stroke-width="1.1"/>
<circle cx="372" cy="677.6" r="1.5" fill="#505050" stroke="#505050" stroke-width="1.1"/>
<text x="347.1" y="689.2" font-family="Liberation Sans" font-size="8.2" fill="#333" stroke="#333" stroke-width="0.3" text-anchor="middle">+/-</text>
<text x="372" y="689.2" font-family="Liberation Sans" font-size="8.2" fill="#333" stroke="#333" stroke-width="0.3" text-anchor="middle">-/+</text>
<text x="347.1" y="701.4" font-family="Liberation Sans" font-size="9.2" fill="#333" stroke="#333" stroke-width="0.3" text-anchor="middle">2</text>
<text x="372" y="701.4" font-family="Liberation Sans" font-size="9.2" fill="#333" stroke="#333" stroke-width="0.3" text-anchor="middle">4</text>
<text x="496.1" y="606.9" font-family="Liberation Sans" font-size="8.6" fill="#333" stroke="#333" stroke-width="0.1" text-anchor="middle">1</text>
<text x="524.8" y="606.9" font-family="Liberation Sans" font-size="8.6" fill="#333" stroke="#333" stroke-width="0.1" text-anchor="middle">3</text>
<text x="552.6" y="606.9" font-family="Liberation Sans" font-size="8.6" fill="#333" stroke="#333" stroke-width="0.1" text-anchor="middle">5</text>
<text x="581.3" y="606.9" font-family="Liberation Sans" font-size="8.6" fill="#333" stroke="#333" stroke-width="0.1" text-anchor="middle">7</text>
<line x1="496.1" y1="611.1" x2="524.8" y2="611.1" stroke="#505050" stroke-width="1.2" />
<line x1="552.6" y1="611.1" x2="581.3" y2="611.1" stroke="#505050" stroke-width="1.2" />
<line x1="496.1" y1="611.1" x2="496.1" y2="637" stroke="#505050" stroke-width="1.2" />
<line x1="492.6" y1="637" x2="499.6" y2="637" stroke="#505050" stroke-width="1.2" />
<line x1="493.70000000000005" y1="628.6" x2="498.5" y2="633.4" stroke="#505050" stroke-width="1.1" />
<line x1="493.70000000000005" y1="633.4" x2="498.5" y2="628.6" stroke="#505050" stroke-width="1.1" />
<line x1="484.0" y1="637.5" x2="496.1" y2="655.6" stroke="#505050" stroke-width="1.2" />
<line x1="496.1" y1="655.6" x2="496.1" y2="682.7" stroke="#505050" stroke-width="1.2" />
<circle cx="496.1" cy="620.9" r="1.9" fill="#fff" stroke="#505050" stroke-width="1.1"/>
<circle cx="496.1" cy="669.1" r="1.9" fill="#fff" stroke="#505050" stroke-width="1.1"/>
<line x1="524.8" y1="611.1" x2="524.8" y2="637" stroke="#505050" stroke-width="1.2" />
<line x1="521.3" y1="637" x2="528.3" y2="637" stroke="#505050" stroke-width="1.2" />
<line x1="522.4" y1="628.6" x2="527.1999999999999" y2="633.4" stroke="#505050" stroke-width="1.1" />
<line x1="522.4" y1="633.4" x2="527.1999999999999" y2="628.6" stroke="#505050" stroke-width="1.1" />
<line x1="512.6999999999999" y1="637.5" x2="524.8" y2="655.6" stroke="#505050" stroke-width="1.2" />
<line x1="524.8" y1="655.6" x2="524.8" y2="676.7" stroke="#505050" stroke-width="1.2" />
<circle cx="524.8" cy="620.9" r="1.9" fill="#fff" stroke="#505050" stroke-width="1.1"/>
<circle cx="524.8" cy="669.1" r="1.9" fill="#fff" stroke="#505050" stroke-width="1.1"/>
<line x1="552.6" y1="611.1" x2="552.6" y2="637" stroke="#505050" stroke-width="1.2" />
<line x1="549.1" y1="637" x2="556.1" y2="637" stroke="#505050" stroke-width="1.2" />
<line x1="550.2" y1="628.6" x2="555.0" y2="633.4" stroke="#505050" stroke-width="1.1" />
<line x1="550.2" y1="633.4" x2="555.0" y2="628.6" stroke="#505050" stroke-width="1.1" />
<line x1="540.5" y1="637.5" x2="552.6" y2="655.6" stroke="#505050" stroke-width="1.2" />
<line x1="552.6" y1="655.6" x2="552.6" y2="676.7" stroke="#505050" stroke-width="1.2" />
<circle cx="552.6" cy="620.9" r="1.9" fill="#fff" stroke="#505050" stroke-width="1.1"/>
<circle cx="552.6" cy="669.1" r="1.9" fill="#fff" stroke="#505050" stroke-width="1.1"/>
<line x1="581.3" y1="611.1" x2="581.3" y2="637" stroke="#505050" stroke-width="1.2" />
<line x1="577.8" y1="637" x2="584.8" y2="637" stroke="#505050" stroke-width="1.2" />
<line x1="578.9" y1="628.6" x2="583.6999999999999" y2="633.4" stroke="#505050" stroke-width="1.1" />
<line x1="578.9" y1="633.4" x2="583.6999999999999" y2="628.6" stroke="#505050" stroke-width="1.1" />
<line x1="569.1999999999999" y1="637.5" x2="581.3" y2="655.6" stroke="#505050" stroke-width="1.2" />
<line x1="581.3" y1="655.6" x2="581.3" y2="682.7" stroke="#505050" stroke-width="1.2" />
<circle cx="581.3" cy="620.9" r="1.9" fill="#fff" stroke="#505050" stroke-width="1.1"/>
<circle cx="581.3" cy="669.1" r="1.9" fill="#fff" stroke="#505050" stroke-width="1.1"/>
<rect x="516.5" y="676.7" width="43.70" height="14.30" fill="#fff" stroke="#505050" stroke-width="1.3"/>
<text x="538.3499999999999" y="687.5" font-family="Liberation Sans" font-size="9.6" fill="#333" stroke="#333" stroke-width="0.1" text-anchor="middle" textLength="21.1" lengthAdjust="spacingAndGlyphs">load</text>
<text x="496.8" y="691.8" font-family="Liberation Sans" font-size="8.6" fill="#333" stroke="#333" stroke-width="0.1" text-anchor="middle" textLength="13.5" lengthAdjust="spacingAndGlyphs">+/-</text>
<text x="581.3" y="691.8" font-family="Liberation Sans" font-size="8.6" fill="#333" stroke="#333" stroke-width="0.1" text-anchor="middle" textLength="13.2" lengthAdjust="spacingAndGlyphs">-/+</text>
<text x="496.1" y="703.4" font-family="Liberation Sans" font-size="9" fill="#333" stroke="#333" stroke-width="0.1" text-anchor="middle">2</text>
<text x="524.8" y="703.4" font-family="Liberation Sans" font-size="9" fill="#333" stroke="#333" stroke-width="0.1" text-anchor="middle">4</text>
<text x="552.6" y="703.4" font-family="Liberation Sans" font-size="9" fill="#333" stroke="#333" stroke-width="0.1" text-anchor="middle">6</text>
<text x="581.3" y="703.4" font-family="Liberation Sans" font-size="9" fill="#333" stroke="#333" stroke-width="0.1" text-anchor="middle">8</text>
<text x="646.5" y="605.8" font-family="Liberation Sans" font-size="8.6" fill="#333" stroke="#333" stroke-width="0.1" text-anchor="middle">1</text>
<text x="675.5" y="605.8" font-family="Liberation Sans" font-size="8.6" fill="#333" stroke="#333" stroke-width="0.1" text-anchor="middle">3</text>
<text x="703.3" y="605.8" font-family="Liberation Sans" font-size="8.6" fill="#333" stroke="#333" stroke-width="0.1" text-anchor="middle">5</text>
<text x="731.9" y="605.8" font-family="Liberation Sans" font-size="8.6" fill="#333" stroke="#333" stroke-width="0.1" text-anchor="middle">7</text>
<line x1="646.5" y1="618.1" x2="675.5" y2="618.1" stroke="#505050" stroke-width="1.2" />
<rect x="695.1" y="609.6" width="43.60" height="14.70" fill="#fff" stroke="#505050" stroke-width="1.3"/>
<text x="716.9" y="621" font-family="Liberation Sans" font-size="9.6" fill="#333" stroke="#333" stroke-width="0.1" text-anchor="middle" textLength="21.8" lengthAdjust="spacingAndGlyphs">load</text>
<line x1="646.5" y1="618.1" x2="646.5" y2="644.7" stroke="#505050" stroke-width="1.2" />
<line x1="643.0" y1="644.7" x2="650.0" y2="644.7" stroke="#505050" stroke-width="1.2" />
<line x1="644.1" y1="636.3000000000001" x2="648.9" y2="641.1" stroke="#505050" stroke-width="1.1" />
<line x1="644.1" y1="641.1" x2="648.9" y2="636.3000000000001" stroke="#505050" stroke-width="1.1" />
<line x1="634.4" y1="645.2" x2="646.5" y2="663.5" stroke="#505050" stroke-width="1.2" />
<line x1="646.5" y1="663.5" x2="646.5" y2="686.4" stroke="#505050" stroke-width="1.2" />
<circle cx="646.5" cy="628.4" r="1.9" fill="#fff" stroke="#505050" stroke-width="1.1"/>
<circle cx="646.5" cy="675.3" r="1.9" fill="#fff" stroke="#505050" stroke-width="1.1"/>
<line x1="675.5" y1="618.1" x2="675.5" y2="644.7" stroke="#505050" stroke-width="1.2" />
<line x1="672.0" y1="644.7" x2="679.0" y2="644.7" stroke="#505050" stroke-width="1.2" />
<line x1="673.1" y1="636.3000000000001" x2="677.9" y2="641.1" stroke="#505050" stroke-width="1.1" />
<line x1="673.1" y1="641.1" x2="677.9" y2="636.3000000000001" stroke="#505050" stroke-width="1.1" />
<line x1="663.4" y1="645.2" x2="675.5" y2="663.5" stroke="#505050" stroke-width="1.2" />
<line x1="675.5" y1="663.5" x2="675.5" y2="692.6" stroke="#505050" stroke-width="1.2" />
<circle cx="675.5" cy="628.4" r="1.9" fill="#fff" stroke="#505050" stroke-width="1.1"/>
<circle cx="675.5" cy="675.3" r="1.9" fill="#fff" stroke="#505050" stroke-width="1.1"/>
<line x1="703.3" y1="624.3" x2="703.3" y2="644.7" stroke="#505050" stroke-width="1.2" />
<line x1="699.8" y1="644.7" x2="706.8" y2="644.7" stroke="#505050" stroke-width="1.2" />
<line x1="700.9" y1="636.3000000000001" x2="705.6999999999999" y2="641.1" stroke="#505050" stroke-width="1.1" />
<line x1="700.9" y1="641.1" x2="705.6999999999999" y2="636.3000000000001" stroke="#505050" stroke-width="1.1" />
<line x1="691.1999999999999" y1="645.2" x2="703.3" y2="663.5" stroke="#505050" stroke-width="1.2" />
<line x1="703.3" y1="663.5" x2="703.3" y2="692.6" stroke="#505050" stroke-width="1.2" />
<circle cx="703.3" cy="628.4" r="1.9" fill="#fff" stroke="#505050" stroke-width="1.1"/>
<circle cx="703.3" cy="675.3" r="1.9" fill="#fff" stroke="#505050" stroke-width="1.1"/>
<line x1="731.9" y1="624.3" x2="731.9" y2="644.7" stroke="#505050" stroke-width="1.2" />
<line x1="728.4" y1="644.7" x2="735.4" y2="644.7" stroke="#505050" stroke-width="1.2" />
<line x1="729.5" y1="636.3000000000001" x2="734.3" y2="641.1" stroke="#505050" stroke-width="1.1" />
<line x1="729.5" y1="641.1" x2="734.3" y2="636.3000000000001" stroke="#505050" stroke-width="1.1" />
<line x1="719.8" y1="645.2" x2="731.9" y2="663.5" stroke="#505050" stroke-width="1.2" />
<line x1="731.9" y1="663.5" x2="731.9" y2="686.4" stroke="#505050" stroke-width="1.2" />
<circle cx="731.9" cy="628.4" r="1.9" fill="#fff" stroke="#505050" stroke-width="1.1"/>
<circle cx="731.9" cy="675.3" r="1.9" fill="#fff" stroke="#505050" stroke-width="1.1"/>
<line x1="675.5" y1="692.6" x2="703.3" y2="692.6" stroke="#505050" stroke-width="1.2" />
<text x="648.1" y="694.4" font-family="Liberation Sans" font-size="8.6" fill="#333" stroke="#333" stroke-width="0.1" text-anchor="middle" textLength="13.9" lengthAdjust="spacingAndGlyphs">+/-</text>
<text x="731.0" y="694.4" font-family="Liberation Sans" font-size="8.6" fill="#333" stroke="#333" stroke-width="0.1" text-anchor="middle" textLength="13.1" lengthAdjust="spacingAndGlyphs">-/+</text>
<text x="646.5" y="708.4" font-family="Liberation Sans" font-size="9" fill="#333" stroke="#333" stroke-width="0.1" text-anchor="middle">2</text>
<text x="675.5" y="708.4" font-family="Liberation Sans" font-size="9" fill="#333" stroke="#333" stroke-width="0.1" text-anchor="middle">4</text>
<text x="703.3" y="708.4" font-family="Liberation Sans" font-size="9" fill="#333" stroke="#333" stroke-width="0.1" text-anchor="middle">6</text>
<text x="731.9" y="708.4" font-family="Liberation Sans" font-size="9" fill="#333" stroke="#333" stroke-width="0.1" text-anchor="middle">8</text>
</svg></body></html>
